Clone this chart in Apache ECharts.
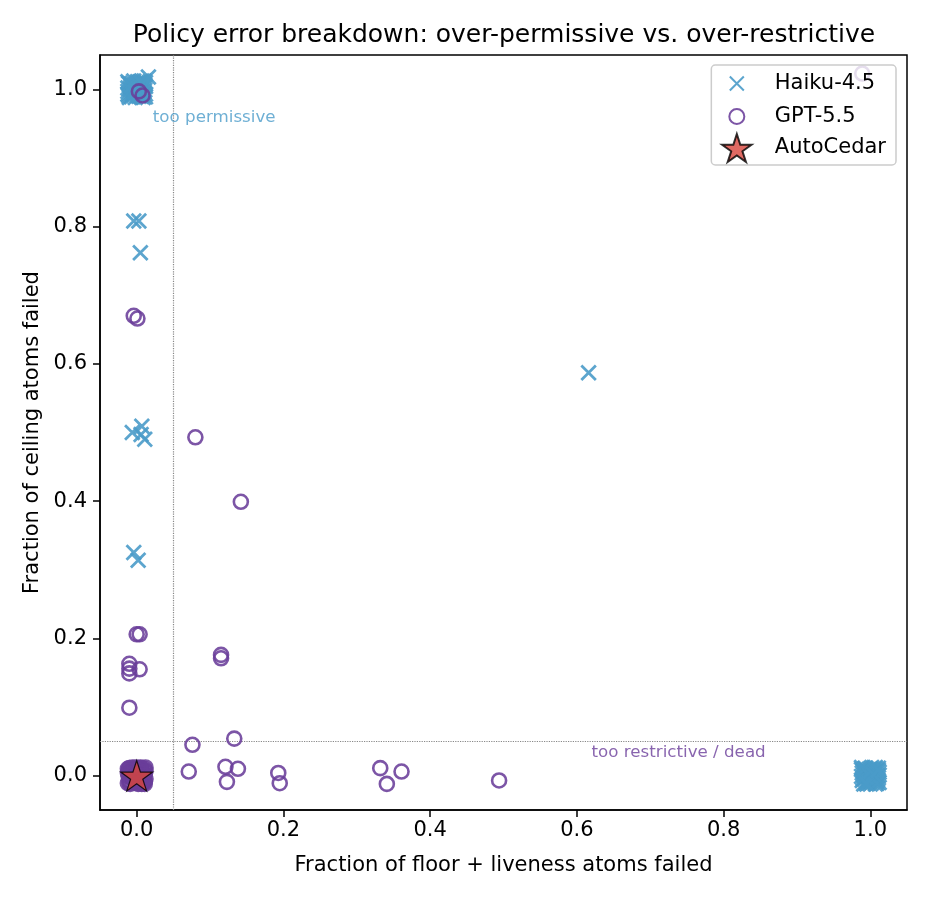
<!DOCTYPE html>
<html>
<head>
<meta charset="utf-8">
<script src="https://cdn.jsdelivr.net/npm/echarts@6/dist/echarts.min.js"></script>
<style>
  html, body { margin: 0; padding: 0; background: #fff; }
  #main { width: 930px; height: 900px; }
</style>
</head>
<body>
<div id="main"></div>
<script>
// tick labels
const xTicks = [0, 0.2, 0.4, 0.6, 0.8, 1.0];
const yTicks = [0, 0.2, 0.4, 0.6, 0.8, 1.0];

// Haiku-4.5 points: [floor+liveness fraction, ceiling fraction]
const haikuPoints = [
  // cluster near (0, 1)
  [-0.011, 1.009], [0.003, 0.990], [0.010, 1.005], [-0.005, 0.998], [0.012, 0.989],
  [-0.012, 0.993], [0.001, 1.011], [0.007, 1.012], [-0.008, 1.003], [0.011, 0.999],
  [-0.002, 0.988], [0.005, 1.000], [-0.012, 1.002], [0.009, 0.993], [-0.006, 1.009],
  [0.000, 0.996], [0.012, 1.010], [-0.010, 0.988], [0.004, 1.007], [-0.001, 1.003],
  [0.010, 1.012], [-0.012, 0.997], [0.006, 0.990], [-0.004, 1.012], [0.002, 0.994],
  [-0.009, 1.008], [0.008, 1.002], [-0.001, 0.999], [0.012, 1.004], [-0.007, 0.989],
  [-0.003, 1.006], [0.006, 0.995], [-0.011, 0.991], [0.003, 1.010], [0.009, 0.988],
  [-0.006, 0.994], [0.000, 1.008], [0.011, 1.007], [-0.009, 1.000], [0.004, 0.997],
  [-0.004, 0.992], [0.007, 1.009], [-0.012, 1.011], [0.002, 1.001], [0.010, 0.996],
  [-0.007, 1.005], [0.001, 0.991], [0.012, 0.993], [-0.003, 0.996], [0.005, 1.011],
  [0.016, 1.018],
  // scattered
  [-0.004, 0.808], [0.003, 0.808], [0.005, 0.762],
  [-0.006, 0.500], [0.007, 0.509], [0.011, 0.490], [0.006, 0.497],
  [-0.004, 0.325], [0.002, 0.314],
  [0.616, 0.587],
  // cluster near (1, 0)
  [1.008, -0.009], [0.989, 0.004], [1.002, 0.012], [0.994, -0.010], [1.012, 0.001],
  [0.991, -0.012], [1.005, 0.006], [0.998, -0.003], [1.010, -0.006], [0.988, 0.009],
  [1.000, 0.010], [1.007, -0.012], [0.996, 0.002], [1.011, 0.011], [0.992, -0.005],
  [1.003, -0.001], [0.990, 0.007], [1.006, 0.003], [0.999, -0.008], [1.012, -0.010],
  [0.993, 0.011], [1.004, -0.006], [0.988, -0.001], [1.009, 0.008], [0.997, -0.011],
  [1.001, 0.004], [0.995, 0.006], [1.010, 0.000], [0.989, -0.007], [1.007, 0.012],
  [0.998, 0.009], [1.005, -0.004], [0.991, 0.001], [1.012, 0.005], [1.000, -0.012],
  [0.994, -0.002], [1.003, 0.008], [1.008, -0.001], [0.988, 0.012], [0.996, -0.007],
  [1.011, -0.003], [1.002, -0.010], [0.992, 0.010], [1.006, 0.010], [0.999, 0.000],
  [1.009, -0.011], [0.990, -0.004], [1.004, 0.002], [0.995, -0.012], [1.011, 0.008]
];

// GPT-5.5 points
const gptPoints = [
  [0.003, 0.997], [0.008, 0.991], [0.989, 1.023],
  [-0.004, 0.670], [0.001, 0.666],
  [0.080, 0.493], [0.142, 0.399],
  [0.000, 0.206], [0.004, 0.206],
  [-0.010, 0.163], [-0.010, 0.156], [-0.010, 0.149], [0.004, 0.155],
  [-0.010, 0.099],
  [0.115, 0.176], [0.115, 0.171],
  [0.076, 0.045], [0.133, 0.054],
  [0.071, 0.006], [0.121, 0.013], [0.138, 0.010], [0.123, -0.009],
  [0.193, 0.004], [0.195, -0.011],
  [0.332, 0.011], [0.361, 0.006], [0.341, -0.012], [0.494, -0.007],
  // cluster near (0, 0)
  [-0.010, -0.008], [0.006, 0.011], [-0.003, 0.004], [0.012, -0.005], [-0.012, 0.010],
  [0.001, -0.011], [0.009, 0.007], [-0.007, -0.003], [0.004, -0.009], [-0.001, 0.012],
  [0.011, 0.002], [-0.009, 0.006], [0.007, -0.012], [-0.005, -0.010], [0.002, 0.005],
  [0.012, 0.012], [-0.011, -0.001], [0.005, -0.002], [-0.004, 0.009], [0.010, -0.010],
  [-0.008, 0.001], [0.000, -0.006], [0.008, 0.004], [-0.012, -0.011], [0.003, 0.010],
  [-0.006, 0.012], [0.011, -0.008], [-0.002, -0.002], [0.006, -0.006], [-0.009, -0.012],
  [0.001, 0.008], [0.009, -0.003], [-0.007, 0.007], [0.004, 0.001], [-0.012, 0.004],
  [0.012, 0.007], [-0.003, -0.007], [0.007, 0.000], [-0.010, 0.011], [0.002, -0.012],
  [-0.005, 0.003], [0.010, 0.010], [-0.001, -0.004], [0.005, 0.012], [-0.008, -0.009],
  [0.011, -0.012], [0.000, 0.002], [-0.011, 0.008], [0.008, -0.008], [-0.004, -0.005]
];

const autoCedarPoints = [[0, 0]];

const refX = 0.05;
const refY = 0.05;

const haikuColor = '#4a9bc9';
const gptColor = '#6a3d9a';
const starColor = '#d8453c';
const font = 'DejaVu Sans';

const crossPath = 'path://M0 0 L10 10 M10 0 L0 10';
const starPath = 'path://M50 0 L61.23 34.55 L97.55 34.55 L68.17 55.9 L79.39 90.45 L50 69.1 L20.61 90.45 L31.83 55.9 L2.45 34.55 L38.77 34.55 Z';
// legend icons: padded so that the mark stays small inside the icon box
const crossIcon = 'path://M-5 -5 M15 15 M0 0 L10 10 M10 0 L0 10';
const circleIcon = 'path://M0 0 M28 28 M6.5 14 A7.5 7.5 0 1 1 21.5 14 A7.5 7.5 0 1 1 6.5 14 Z';

const chart = echarts.init(document.getElementById('main'), null, { renderer: 'canvas' });

const option = {
  animation: false,
  backgroundColor: '#fff',
  textStyle: { fontFamily: font, color: '#000' },
  title: {
    text: 'Policy error breakdown: over-permissive vs. over-restrictive',
    left: 504,
    top: 23,
    textAlign: 'center',
    padding: 0,
    textStyle: { fontFamily: font, fontSize: 25, fontWeight: 'normal', color: '#000' }
  },
  grid: {
    left: 100, right: 23, top: 55, bottom: 90,
    show: true, borderColor: '#000', borderWidth: 1.5, backgroundColor: 'transparent'
  },
  legend: {
    orient: 'vertical',
    right: 34,
    top: 65,
    z: 10,
    data: [
      { name: 'Haiku-4.5', icon: crossIcon },
      { name: 'GPT-5.5', icon: circleIcon },
      { name: 'AutoCedar', icon: starPath }
    ],
    backgroundColor: 'rgba(255,255,255,0.8)',
    borderColor: '#cccccc',
    borderWidth: 1.5,
    borderRadius: 4,
    padding: [2, 10, 2, 9],
    itemGap: 1.5,
    itemWidth: 40,
    itemHeight: 28,
    textStyle: { fontFamily: font, fontSize: 21, lineHeight: 22, color: '#000', padding: [0, 0, 0, 13] }
  },
  xAxis: {
    type: 'value',
    min: -0.05, max: 1.05,
    name: 'Fraction of floor + liveness atoms failed',
    nameLocation: 'middle',
    nameGap: 45,
    nameTextStyle: { fontFamily: font, fontSize: 21, color: '#000' },
    axisLine: { show: true, onZero: false, lineStyle: { color: '#000', width: 1.5 } },
    axisTick: { show: true, inside: false, length: 7, customValues: xTicks, lineStyle: { color: '#000', width: 1.5 } },
    axisLabel: {
      customValues: xTicks, margin: 10, fontFamily: font, fontSize: 21, color: '#000',
      formatter: v => v.toFixed(1)
    },
    splitLine: { show: false }
  },
  yAxis: {
    type: 'value',
    min: -0.05, max: 1.05,
    name: 'Fraction of ceiling atoms failed',
    nameLocation: 'middle',
    nameGap: 57,
    nameTextStyle: { fontFamily: font, fontSize: 21, color: '#000' },
    axisLine: { show: true, onZero: false, lineStyle: { color: '#000', width: 1.5 } },
    axisTick: { show: true, inside: false, length: 7, customValues: yTicks, lineStyle: { color: '#000', width: 1.5 } },
    axisLabel: {
      customValues: yTicks, margin: 13, fontFamily: font, fontSize: 21, color: '#000',
      formatter: v => v.toFixed(1)
    },
    splitLine: { show: false }
  },
  series: [
    {
      name: 'Haiku-4.5',
      type: 'scatter',
      data: haikuPoints,
      symbol: crossPath,
      symbolSize: 14.5,
      itemStyle: { color: 'none', borderColor: haikuColor, borderWidth: 2.8, opacity: 0.9 },
      z: 2
    },
    {
      name: 'GPT-5.5',
      type: 'scatter',
      data: gptPoints,
      symbol: 'circle',
      symbolSize: 14,
      itemStyle: { color: 'rgba(255,255,255,0)', borderColor: gptColor, borderWidth: 2.6, opacity: 0.88 },
      z: 2
    },
    {
      name: 'AutoCedar',
      type: 'scatter',
      data: autoCedarPoints,
      symbol: starPath,
      symbolKeepAspect: true,
      symbolSize: 32,
      itemStyle: { color: starColor, borderColor: '#000', borderWidth: 1.2 },
      z: 3,
      markLine: {
        silent: true,
        symbol: 'none',
        label: { show: false },
        lineStyle: { type: 'dotted', color: '#888', width: 1.2 },
        data: [{ xAxis: refX }, { yAxis: refY }],
        z: 1
      }
    },
    {
      name: 'annotations',
      type: 'scatter',
      silent: true,
      symbolSize: 0,
      data: [
        { value: [0.022, 0.959], label: { formatter: 'too permissive', color: haikuColor } },
        { value: [0.620, 0.033], label: { formatter: 'too restrictive / dead', color: gptColor } }
      ],
      label: {
        show: true, position: [0, 0], align: 'left', verticalAlign: 'middle',
        fontFamily: font, fontSize: 16.7
      },
      z: 3
    }
  ]
};

chart.setOption(option);
</script>
</body>
</html>
